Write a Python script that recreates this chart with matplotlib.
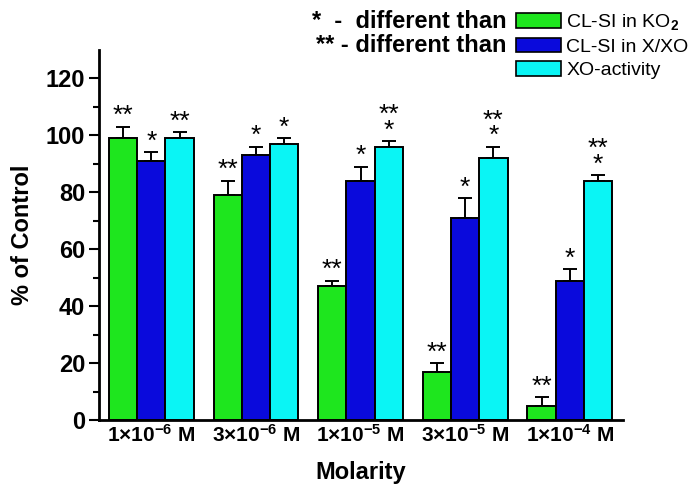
import matplotlib
matplotlib.use("Agg")
import matplotlib.pyplot as plt
import numpy as np

plt.rcParams['font.family'] = ['Liberation Sans', 'DejaVu Sans']
plt.rcParams['mathtext.fontset'] = 'custom'
plt.rcParams['mathtext.rm'] = 'Liberation Sans:bold'
plt.rcParams['mathtext.bf'] = 'Liberation Sans:bold'
plt.rcParams['mathtext.it'] = 'Liberation Sans:bold'
plt.rcParams['mathtext.default'] = 'rm'

categories = [r"1$\times$10$^{-6}$ M", r"3$\times$10$^{-6}$ M", r"1$\times$10$^{-5}$ M",
              r"3$\times$10$^{-5}$ M", r"1$\times$10$^{-4}$ M"]
series_names = ["CL-SI in KO$_2$", "CL-SI in X/XO", "XO-activity"]
ko2 = [99, 79, 47, 17, 5]
ko2_err = [4, 5, 2, 3, 3]
xxo = [91, 93, 84, 71, 49]
xxo_err = [3, 3, 5, 7, 4]
xoa = [99, 97, 96, 92, 84]
xoa_err = [2, 2, 2, 4, 2]
ko2_sig = ["**", "**", "**", "**", "**"]
xxo_sig = ["*", "*", "*", "*", "*"]
xoa_sig = ["**", "*", "**\n*", "**\n*", "**\n*"]
colors = ["#1ee61e", "#0a0adc", "#0af5f5"]

fig = plt.figure(figsize=(6.97, 4.84), dpi=100)
ax = fig.add_axes([0.142, 0.132, 0.752, 0.765])

x = np.arange(len(categories))
w = 0.27
for i, (vals, errs, sig) in enumerate([(ko2, ko2_err, ko2_sig), (xxo, xxo_err, xxo_sig), (xoa, xoa_err, xoa_sig)]):
    pos = x + (i - 1) * w
    ax.bar(pos, vals, w, color=colors[i], edgecolor='black', linewidth=1.4,
           label=series_names[i], zorder=2)
    ax.errorbar(pos, vals, yerr=[np.zeros(len(vals)), errs], fmt='none', ecolor='black',
                elinewidth=1.4, capsize=5, capthick=1.4, zorder=1)
    for p, v, e, s in zip(pos, vals, errs, sig):
        ax.text(p, v + e - 0.5, s, ha='center', va='bottom', fontsize=19, linespacing=0.55)

ax.set_ylim(0, 130)
ax.set_xlim(-0.5, 4.51)
ax.set_yticks([0, 20, 40, 60, 80, 100, 120])
ax.set_yticks(np.arange(10, 130, 20), minor=True)
ax.set_xticks(x)
ax.set_xticklabels(categories, fontsize=15, fontweight='bold')
ax.tick_params(axis='x', length=0, pad=3)
ax.tick_params(axis='y', which='major', length=7, width=1.5, labelsize=17, direction='out', pad=3)
ax.tick_params(axis='y', which='minor', length=4, width=1.5, direction='out')
for lbl in ax.get_yticklabels():
    lbl.set_fontweight('bold')
for s in ['top', 'right']:
    ax.spines[s].set_visible(False)
for s in ['left', 'bottom']:
    ax.spines[s].set_linewidth(2)
ax.set_ylabel("% of Control", fontsize=17, fontweight='bold', labelpad=8)
ax.set_xlabel("Molarity", fontsize=17, fontweight='bold', va='center')
ax.xaxis.set_label_coords(0.5, -0.142)

leg = fig.legend(loc='upper left', bbox_to_anchor=(0.740, 0.975), frameon=False,
                 fontsize=14, handlelength=2.3, handleheight=0.8, handletextpad=0.3,
                 labelspacing=0.28, borderaxespad=0, borderpad=0)
for h in leg.legend_handles:
    h.set_edgecolor('black')
    h.set_linewidth(1.2)

fig.text(0.727, 0.955, "*  -  different than", ha='right', va='center', fontsize=17, fontweight='bold')
fig.text(0.727, 0.906, "** - different than", ha='right', va='center', fontsize=17, fontweight='bold')

fig.savefig("out.png", dpi=100)
